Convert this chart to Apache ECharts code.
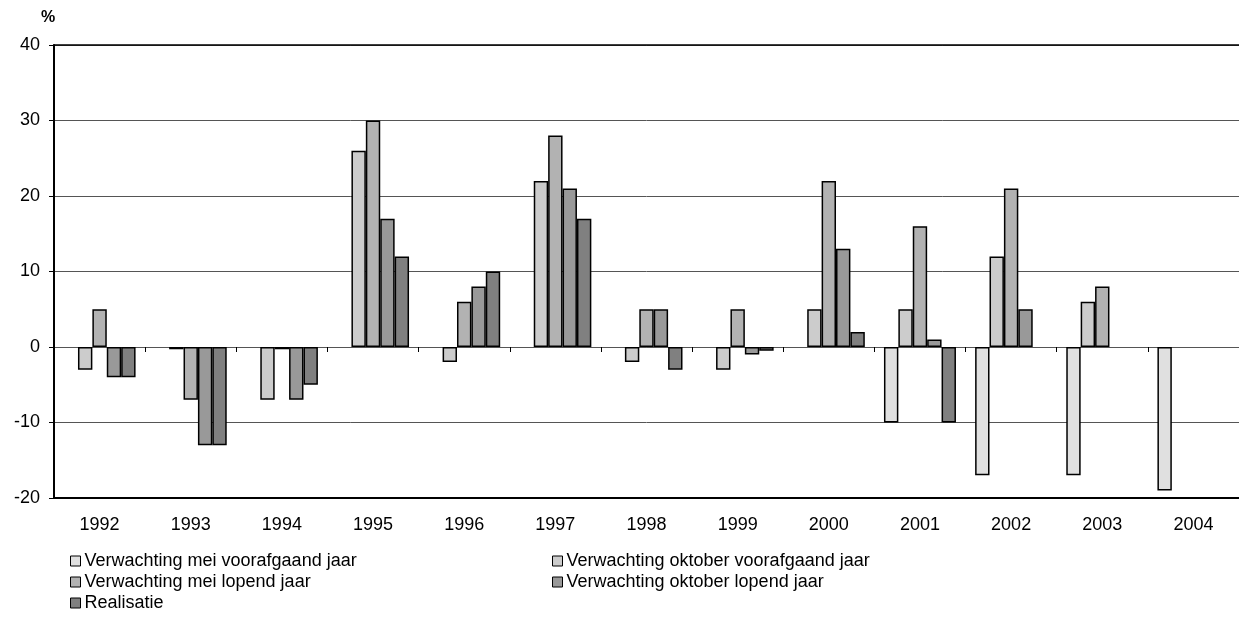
<!DOCTYPE html>
<html>
<head>
<meta charset="utf-8">
<script src="https://cdn.jsdelivr.net/npm/echarts@6/dist/echarts.min.js"></script>
<style>
html,body{margin:0;padding:0;background:#fff;}
#chart{width:1239px;height:642px;}
</style>
</head>
<body>
<div id="chart"></div>
<script>
const categories = ['1992','1993','1994','1995','1996','1997','1998','1999','2000','2001','2002','2003','2004'];
const meiVoorafgaand = [null,null,null,null,null,null,null,null,null,-10,-17,-17,-19];
const oktoberVoorafgaand = [-3,-0.3,-7,26,-2,22,-2,-3,5,5,12,6,null];
const meiLopend = [5,-7,-0.3,30,6,28,5,5,22,16,21,8,null];
const oktoberLopend = [-4,-13,-7,17,8,21,5,-1,13,1,5,null,null];
const realisatie = [-4,-13,-5,12,10,17,-3,-0.5,2,-10,null,null,null];
const seriesNames = ['Verwachting mei voorafgaand jaar','Verwachting oktober voorafgaand jaar','Verwachting mei lopend jaar','Verwachting oktober lopend jaar','Realisatie'];
const yTicks = {min:-20, max:40, interval:10};

const colors = ['#e0e0e0','#cccccc','#b2b2b2','#999999','#808080'];
const font = 'Liberation Sans, Arial, sans-serif';
const dataSets = [meiVoorafgaand, oktoberVoorafgaand, meiLopend, oktoberLopend, realisatie];

const chart = echarts.init(document.getElementById('chart'), null, {renderer:'canvas'});
chart.setOption({
  animation:false,
  backgroundColor:'#fff',
  textStyle:{fontFamily:font},
  grid:{left:54, right:0, top:45, bottom:144, containLabel:false},
  xAxis:[
    {type:'category', data:categories, position:'bottom',
     axisLine:{onZero:false, lineStyle:{color:'#000', width:2}},
     axisTick:{show:false},
     axisLabel:{color:'#000', fontSize:18, margin:18, fontFamily:font}},
    {type:'category', data:categories, position:'top',
     axisLine:{onZero:true, lineStyle:{color:'#555', width:1}},
     axisTick:{show:true, inside:true, length:5, lineStyle:{color:'#000', width:1}},
     axisLabel:{show:false}},
    {type:'category', data:categories, position:'top',
     axisLine:{onZero:false, lineStyle:{color:'#000', width:1.5}},
     axisTick:{show:false},
     axisLabel:{show:false}}
  ],
  yAxis:{type:'value', min:yTicks.min, max:yTicks.max, interval:yTicks.interval,
    name:'%', nameLocation:'end', nameGap:19,
    nameTextStyle:{color:'#000', fontSize:16, fontWeight:'bold', align:'center', padding:[0,12,0,0], fontFamily:font},
    axisLine:{show:true, onZero:false, lineStyle:{color:'#000', width:2}},
    axisTick:{show:true, length:5, lineStyle:{color:'#000', width:1}},
    axisLabel:{color:'#000', fontSize:18, margin:14, fontFamily:font},
    splitLine:{show:true, lineStyle:{color:'#555', width:1}}
  },
  legend:[
    {data:[seriesNames[0], seriesNames[2], seriesNames[4]], orient:'vertical', left:65, top:547,
     icon:'rect', itemWidth:10, itemHeight:10, itemGap:3,
     itemStyle:{borderColor:'#000', borderWidth:1},
     textStyle:{color:'#000', fontSize:18, lineHeight:18, fontFamily:font, padding:[0,0,0,-1]}},
    {data:[seriesNames[1], seriesNames[3]], orient:'vertical', left:547, top:547,
     icon:'rect', itemWidth:10, itemHeight:10, itemGap:3,
     itemStyle:{borderColor:'#000', borderWidth:1},
     textStyle:{color:'#000', fontSize:18, lineHeight:18, fontFamily:font, padding:[0,0,0,-1]}}
  ],
  series: dataSets.map((d,i)=>({
    name:seriesNames[i], type:'bar', data:d, xAxisIndex:0,
    barWidth:14.4, barGap:'0%',
    itemStyle:{color:colors[i], borderColor:'#000', borderWidth:1.5}
  }))
});
</script>
</body>
</html>
